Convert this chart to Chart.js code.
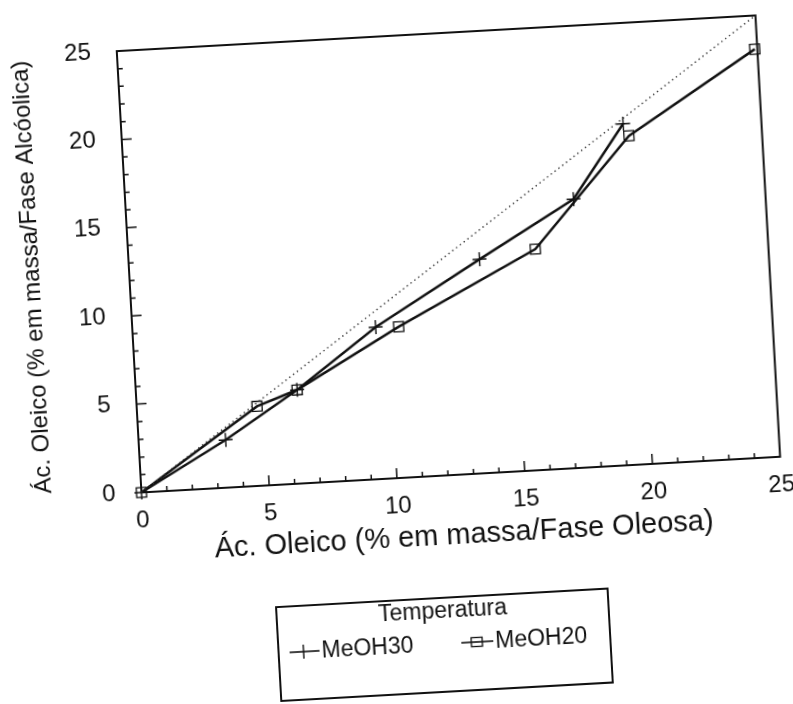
<!DOCTYPE html>
<html>
<head>
<meta charset="utf-8">
<script src="https://cdn.jsdelivr.net/npm/chart.js@4.4.1/dist/chart.umd.min.js"></script>
<style>
    html, body { margin: 0; padding: 0; background: #fff; overflow: hidden; }
    #wrap {
        position: relative;
        width: 793px;
        height: 704px;
        transform: rotate(-3.2deg);
        transform-origin: 50% 50%;
    }
    #chartBox { position: absolute; left: 0; top: 0; width: 793px; height: 704px; }
    #legendBox {
        position: absolute;
        left: 261px;
        top: 599px;
        width: 334px;
        height: 96px;
        border: 2px solid #111;
        box-sizing: border-box;
        font-family: "Liberation Sans", Arial, sans-serif;
        font-size: 23px;
        line-height: 23px;
        color: #111;
    }
    #legendBox .title { position: absolute; left: 0; right: 0; top: 0; text-align: center; }
    #legendBox .entry { position: absolute; top: 33px; white-space: nowrap; }
    #legendBox svg { position: absolute; top: 0; }
</style>
</head>
<body>
<div id="wrap">
    <div id="chartBox"><canvas id="equilibriumChart"></canvas></div>
    <div id="legendBox">
        <div class="title">Temperatura</div>
        <div class="entry" style="left: 9px;">
            <svg width="32" height="23" style="left: 0;">
                <line x1="1" y1="12" x2="31" y2="12" stroke="#111" stroke-width="1.6"/>
                <line x1="15" y1="5" x2="15" y2="19" stroke="#111" stroke-width="1.4"/>
            </svg>
            <span style="margin-left: 33px;">MeOH30</span>
        </div>
        <div class="entry" style="left: 181px;">
            <svg width="34" height="23" style="left: 0;">
                <line x1="1" y1="12" x2="33" y2="12" stroke="#111" stroke-width="1.6"/>
                <rect x="11" y="7.5" width="11" height="9" fill="none" stroke="#111" stroke-width="1.3"/>
            </svg>
            <span style="margin-left: 35px;">MeOH20</span>
        </div>
    </div>
</div>

<script>
// Oleic acid in the oil phase (x) vs. alcohol phase (y), % by mass
const oleosaMeOH30 = [0, 3.4, 6.3, 9.5, 13.7, 17.5, 19.6];
const alcoolMeOH30 = [0, 2.7, 5.3, 8.6, 12.1, 15.2, 19.3];
const oleosaMeOH20 = [0, 4.7, 6.3, 10.4, 15.9, 19.8, 24.9];
const alcoolMeOH20 = [0, 4.5, 5.3, 8.55, 12.5, 18.6, 23.1];

// axis range and tick spacing, the dotted line is y = x over the full range
const axisMin = 0;
const axisMax = 25;
const labelStep = 5;
const minorStep = 1;
const diagonal = [axisMin, axisMax];

const fontFamily = '"Liberation Sans", Arial, sans-serif';
const ink = '#111';

function toPoints(xs, ys) {
    return xs.map((x, i) => ({ x: x, y: ys[i] }));
}

// closed frame with inward tick marks (minor every unit, longer ones at labels)
const frameAndTicks = {
    id: 'frameAndTicks',
    beforeDatasetsDraw(chart) {
        const { ctx, chartArea: a, scales: { x, y } } = chart;
        ctx.save();
        ctx.strokeStyle = ink;
        ctx.lineWidth = 2;
        ctx.strokeRect(a.left, a.top, a.right - a.left, a.bottom - a.top);
        ctx.lineWidth = 1.5;
        ctx.beginPath();
        for (let v = axisMin + minorStep; v < axisMax; v += minorStep) {
            const len = v % labelStep === 0 ? 10 : 5;
            const px = x.getPixelForValue(v);
            ctx.moveTo(px, a.bottom);
            ctx.lineTo(px, a.bottom - len);
            const py = y.getPixelForValue(v);
            ctx.moveTo(a.left, py);
            ctx.lineTo(a.left + len, py);
        }
        ctx.stroke();
        ctx.restore();
    }
};

const ctx = document.getElementById('equilibriumChart').getContext('2d');
new Chart(ctx, {
    type: 'scatter',
    data: {
        datasets: [
            {
                label: 'y = x',
                data: toPoints(diagonal, diagonal),
                showLine: true,
                borderColor: '#333',
                borderWidth: 1.4,
                borderDash: [1.4, 3.4],
                pointRadius: 0,
                clip: false
            },
            {
                label: 'MeOH30',
                data: toPoints(oleosaMeOH30, alcoolMeOH30),
                showLine: true,
                borderColor: ink,
                borderWidth: 2.5,
                pointStyle: 'cross',
                pointRadius: 7,
                pointBorderWidth: 1.4,
                pointBorderColor: ink,
                tension: 0,
                clip: false
            },
            {
                label: 'MeOH20',
                data: toPoints(oleosaMeOH20, alcoolMeOH20),
                showLine: true,
                borderColor: ink,
                borderWidth: 2.5,
                pointStyle: 'rect',
                pointRadius: 7,
                pointBorderWidth: 1.3,
                pointBorderColor: ink,
                pointBackgroundColor: 'rgba(0,0,0,0)',
                tension: 0,
                clip: false
            }
        ]
    },
    options: {
        animation: false,
        responsive: true,
        maintainAspectRatio: false,
        layout: { padding: { top: 36, right: 9, left: 0, bottom: 0 } },
        scales: {
            x: {
                type: 'linear',
                min: axisMin,
                max: axisMax,
                grid: { display: false },
                border: { display: false },
                ticks: {
                    stepSize: labelStep,
                    color: ink,
                    padding: 6,
                    maxRotation: 0,
                    font: { family: fontFamily, size: 24 }
                },
                title: {
                    display: true,
                    text: 'Ác. Oleico (% em massa/Fase Oleosa)',
                    color: ink,
                    font: { family: fontFamily, size: 29 },
                    padding: { top: 0, bottom: 148 }
                },
                afterFit: scale => { scale.height = 226; }
            },
            y: {
                type: 'linear',
                min: axisMin,
                max: axisMax,
                grid: { display: false },
                border: { display: false },
                ticks: {
                    stepSize: labelStep,
                    color: ink,
                    padding: 18,
                    font: { family: fontFamily, size: 24 }
                },
                title: {
                    display: true,
                    text: 'Ác. Oleico (% em massa/Fase Alcóolica)',
                    color: ink,
                    font: { family: fontFamily, size: 24 },
                    padding: { top: 23, bottom: 0 }
                },
                afterFit: scale => { scale.width = 134; }
            }
        },
        plugins: {
            legend: { display: false },
            tooltip: { enabled: false }
        }
    },
    plugins: [frameAndTicks]
});
</script>
</body>
</html>
